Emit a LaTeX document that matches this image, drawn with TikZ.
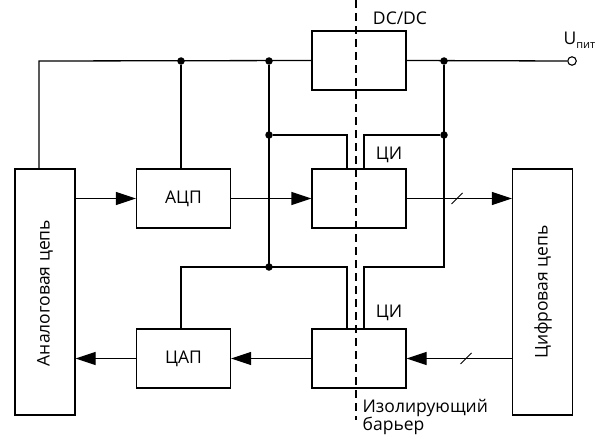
\documentclass[tikz,border=0pt]{standalone}
\usepackage{fontspec}
\setmainfont{Open Sans}
\usetikzlibrary{arrows.meta,calc}

\begin{document}
\begin{tikzpicture}[x=1pt,y=-1pt,line width=1.3pt,
    block/.style={draw,minimum width=94pt,minimum height=59pt,inner sep=0pt,font=\fontsize{17.5}{19}\selectfont},
    side/.style={draw,minimum width=60pt,minimum height=246pt,inner sep=0pt},
    junct/.style={circle,fill,inner sep=0pt,minimum size=7.5pt},
    term/.style={circle,draw,fill=white,line width=1.1pt,inner sep=0pt,minimum size=8.5pt},
    sig/.style={-{Triangle[length=20pt,width=13pt]}},
    lbl/.style={font=\fontsize{17.5}{19}\selectfont,inner sep=0pt}]
    \useasboundingbox (0,0) rectangle (607,436);

    % Side blocks
    \node[side] (analog) at (45,292) {};
    \node[side] (digital) at (542.5,292) {};
    \node[lbl,rotate=90] (analogtxt) at (45,293) {Аналоговая цепь};
    \node[lbl,rotate=90] (digitaltxt) at (543,292) {Цифровая цепь};

    % Inner blocks
    \node[block] (adc) at (183.5,198.5) {АЦП};
    \node[block] (dac) at (183.5,358.5) {ЦАП};
    \node[block] (iso1) at (359,198.5) {};
    \node[block] (iso2) at (359,358.5) {};
    \node[block] (dcdc) at (359,60.5) {};

    % Labels
    \node[lbl] (dcdctxt) at (400,18) {DC/DC};
    \node[lbl] (iso1txt) at (389,155) {ЦИ};
    \node[lbl] (iso2txt) at (389,313) {ЦИ};
    \node[lbl,align=left,anchor=north west] (bartxt) at (362,399) {Изолирующий\\[-1.5pt]барьер};

    % Supply bus
    \coordinate (busL) at (39,61);
    \node[junct] (j1) at (181,61) {};
    \node[junct] (j2) at (269,61) {};
    \node[junct] (j3) at (269,135) {};
    \coordinate (j4) at (269,267);
    \node[junct] (j4dot) at (j4) {};
    \node[junct] (j5) at (444,61) {};
    \node[junct] (j6) at (444,135) {};
    \coordinate (j7) at (444,267);
    \node[term] (vcc) at (572,61) {};
    \node[lbl,anchor=south west] (vcctxt) at (563,49) {U\raisebox{-4pt}{\fontsize{11}{12}\selectfont пит}};

    \draw (busL |- analog.north) -- (busL) -- (dcdc.west);
    \draw (dcdc.east) -- (vcc.west);
    \draw (j1) -- (j1 |- adc.north);
    \draw (j2) -- (j4);
    \draw (j4) -- (181,267) -- (dac.north -| 181,0);
    \draw (j3) -- (347,135) -- (347,169);
    \draw (j4) -- (347,267) -- (347,329);
    \draw (j5) -- (j7) -- (364,267) -- (364,329);
    \draw (j6) -- (364,135) -- (364,169);

    % Signal path
    \draw[sig] (analog.east |- adc.west) -- (adc.west);
    \draw[sig] (adc.east) -- (iso1.west);
    \draw[sig] (iso1.east) -- (digital.west |- iso1.east);
    \draw[sig] (digital.west |- iso2.east) -- (iso2.east);
    \draw[sig] (iso2.west) -- (dac.east);
    \draw[sig] (dac.west) -- (analog.east |- dac.west);

    % Bus marks
    \coordinate (m1) at (457,198.5);
    \coordinate (m2) at (466,358.5);
    \draw[line width=1pt] ($(m1)+(-5.5,5.5)$) -- ($(m1)+(5.5,-5.5)$);
    \draw[line width=1pt] ($(m2)+(-5.5,5.5)$) -- ($(m2)+(5.5,-5.5)$);

    % Isolation barrier
    \draw[line width=2.8pt,dash pattern=on 8pt off 5pt] (356,0) -- (356,420);
\end{tikzpicture}
\end{document}
